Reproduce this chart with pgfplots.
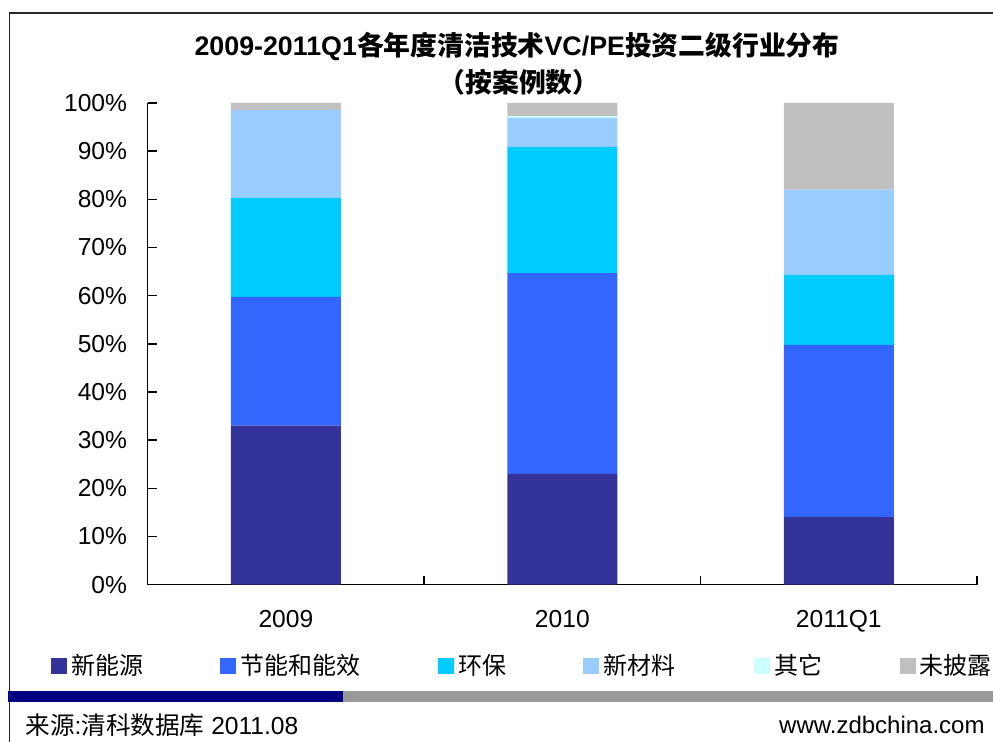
\documentclass[border=0pt]{standalone}
\usepackage{fontspec}
\setmainfont{Liberation Sans}
\newfontfamily\cjk{Noto Sans CJK SC}
\usepackage{pgfplots}
\pgfplotsset{compat=1.18}
\definecolor{cA}{HTML}{333399}
\definecolor{cB}{HTML}{3366FF}
\definecolor{cC}{HTML}{00CCFF}
\definecolor{cD}{HTML}{99CCFF}
\definecolor{cE}{HTML}{CCFFFF}
\definecolor{cF}{HTML}{C0C0C0}
\definecolor{navyband}{HTML}{000080}
\definecolor{grayband}{HTML}{999999}
\begin{document}
\begin{tikzpicture}[x=1pt,y=1pt]
\path[use as bounding box] (0,0) rectangle (496.5,371);
% frame
\draw[line width=0.7pt, black!85] (4.75,0) -- (4.75,364.5) -- (496.5,364.5);
% bottom band
\fill[navyband] (4,20.15) rectangle (171.5,25.5);
\fill[grayband] (171.5,20.15) rectangle (496.5,25.5);
% title
\node[font=\fontsize{13.4}{15}\selectfont\bfseries] at (258.5,347.5) {2009-2011Q1{\cjk 各年度清洁技术}VC/PE{\cjk 投资二级行业分布}};
\node[font=\fontsize{13.4}{15}\selectfont\bfseries] at (259.5,330) {\cjk （按案例数）};
% source
\node[anchor=west, font=\fontsize{12.3}{14}\selectfont, inner sep=0pt] at (12.5,8.5) {{\cjk 来源}:{\cjk 清科数据库} 2011.08};
\node[anchor=east, font=\fontsize{12}{14}\selectfont, inner sep=0pt] at (492.5,8.5) {www.zdbchina.com};
\begin{axis}[
  at={(73.85pt,78.65pt)}, anchor=south west,
  scale only axis, width=414.65pt, height=240.85pt,
  ybar stacked, bar width=55pt,
  xmin=-0.5, xmax=2.5, ymin=0, ymax=100,
  axis x line=bottom, axis y line=left,
  axis line style={-, line width=0.7pt, black},
  xtick={0,1,2}, xticklabels={2009,2010,2011Q1},
  minor xtick={-0.5,0.5,1.5,2.5},
  ytick={0,10,...,100},
  yticklabels={0\%,10\%,20\%,30\%,40\%,50\%,60\%,70\%,80\%,90\%,100\%},
  tick align=inside,
  major x tick style={draw=none},
  minor x tick style={draw=black, line width=0.7pt},
  major y tick style={draw=black, line width=0.7pt},
  major tick length=4.5pt, minor tick length=4.5pt,
  tick label style={font=\fontsize{12.3}{14}\selectfont},
  yticklabel style={xshift=-6.8pt},
  xticklabel style={yshift=-9.5pt},
  legend columns=6,
  legend cell align=left,
  legend style={draw=none, fill=none, at={(-0.1166,-0.1688)}, anchor=west,
    inner sep=0pt, outer sep=0pt, column sep=0pt,
    font=\fontsize{12}{14}\selectfont},
  legend image code/.code={\fill[#1, draw=none] (0pt,-4pt) rectangle (8pt,4pt);},
  every axis plot/.append style={draw=none},
]
\addplot[fill=cA] coordinates {(0,33.0) (1,23.0) (2,14.0)};
\addplot[fill=cB] coordinates {(0,26.75) (1,41.7) (2,35.8)};
\addplot[fill=cC] coordinates {(0,20.55) (1,26.2) (2,14.5)};
\addplot[fill=cD] coordinates {(0,18.2) (1,6.0) (2,17.7)};
\addplot[fill=cE] coordinates {(0,0) (1,0.4) (2,0)};
\addplot[fill=cF] coordinates {(0,1.5) (1,2.7) (2,18.0)};
\legend{\makebox[72.7pt][l]{\cjk 新能源},\makebox[96.8pt][l]{\cjk 节能和能效},\makebox[60.6pt][l]{\cjk 环保},\makebox[73.5pt][l]{\cjk 新材料},\makebox[60.8pt][l]{\cjk 其它},{\cjk 未披露}}
\end{axis}
\end{tikzpicture}
\end{document}
